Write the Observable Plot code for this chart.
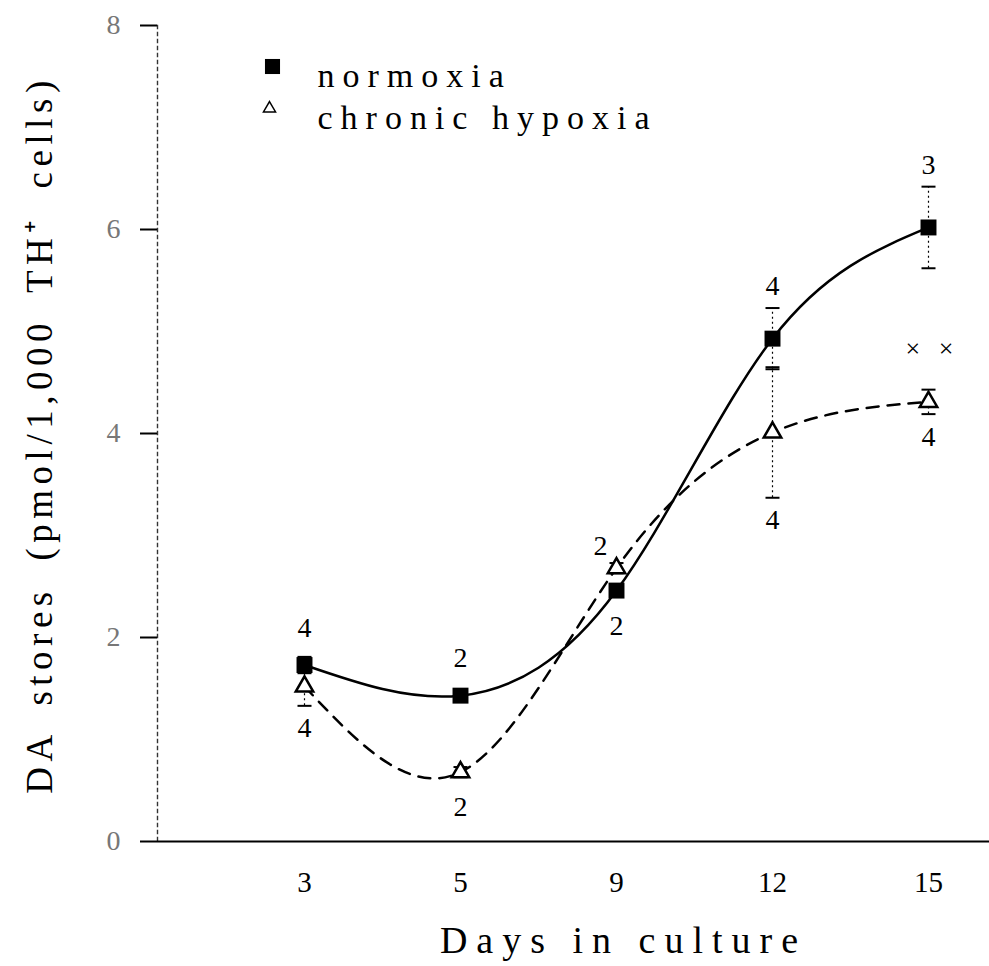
<!DOCTYPE html>
<html>
<head>
<meta charset="utf-8">
<script src="https://cdn.jsdelivr.net/npm/d3@7"></script>
<script src="https://cdn.jsdelivr.net/npm/@observablehq/plot@0.6"></script>
<style>
  body { margin: 0; background: #fff; }
  #chart svg { display: block; }
</style>
</head>
<body>
<div id="chart"></div>
<script>
// Dopamine stores in TH+ cells over days in culture (mean ± SEM, n per point)
const days = ["3", "5", "9", "12", "15"];

const normoxiaMean = [1.73, 1.43, 2.46, 4.93, 6.02];
const normoxiaErr  = [0.08, 0.05, 0.06, 0.30, 0.40];
const normoxiaN    = [4, 2, 2, 4, 3];
const normoxiaSide = ["above", "above", "below", "above", "above"];

const hypoxiaMean = [1.52, 0.68, 2.68, 4.01, 4.31];
const hypoxiaErr  = [0.19, 0.05, 0.05, 0.64, 0.12];
const hypoxiaN    = [4, 2, 2, 4, 4];
const hypoxiaSide = ["below", "below", "above", "below", "below"];

const significance = ["", "", "", "", "× ×"];

const yTicks = [0, 2, 4, 6, 8];
const legendLabels = ["normoxia", "chronic hypoxia"];
const xTitle = "Days in culture";
const yTitle = "DA stores (pmol/1,000 TH\u207A cells)";

const norm = days.map((day, i) => ({
  day, mean: normoxiaMean[i], err: normoxiaErr[i], n: normoxiaN[i], side: normoxiaSide[i]
}));
const hyp = days.map((day, i) => ({
  day, mean: hypoxiaMean[i], err: hypoxiaErr[i], n: hypoxiaN[i], side: hypoxiaSide[i], sig: significance[i]
}));
const all = norm.concat(hyp);

const font = "Liberation Serif";

// horizontal dash used as an error-bar cap
const capSymbol = {
  draw(context, size) {
    const h = Math.sqrt(size / Math.PI);
    context.moveTo(-h, 0);
    context.lineTo(h, 0);
  }
};

// label sits beyond the error bar, or clear of the marker when the bar is short
const aboveY = d => d.mean + Math.max(d.err, 0.15);
const belowY = d => d.mean - Math.max(d.err, 0.13);

const chart = Plot.plot({
  width: 989,
  height: 966,
  marginLeft: 157,
  marginRight: 0,
  marginTop: 25,
  marginBottom: 125,
  style: { fontFamily: font, background: "#fff", color: "#000" },
  x: { type: "point", domain: days, range: [303, 928], padding: 0 },
  y: { domain: [0, 8], range: [841, 25] },
  marks: [
    // dotted vertical axis line
    Plot.frame({ anchor: "left", stroke: "#333", strokeDasharray: "3,4", strokeWidth: 1.4 }),
    Plot.axisY(yTicks, {
      tickSize: 17, tickPadding: 20, strokeWidth: 2, stroke: "#000",
      fontSize: 28, fill: "#777", tickFormat: d => String(d), label: null
    }),
    Plot.axisX({ tickSize: 0, tickPadding: 30, fontSize: 29, label: null }),
    Plot.ruleY([0], { strokeWidth: 2 }),

    // fitted curves
    Plot.line(hyp, { x: "day", y: "mean", curve: "natural", stroke: "#000", strokeWidth: 2.5, strokeDasharray: "12,9" }),
    Plot.line(norm, { x: "day", y: "mean", curve: "natural", stroke: "#000", strokeWidth: 2.5 }),

    // error bars
    Plot.ruleX(all, { x: "day", y1: d => d.mean - d.err, y2: d => d.mean + d.err, stroke: "#000", strokeWidth: 1.2, strokeDasharray: "2,3" }),
    Plot.dot(all, { x: "day", y: d => d.mean + d.err, symbol: capSymbol, r: 7, stroke: "#000", strokeWidth: 2, fill: "none" }),
    Plot.dot(all, { x: "day", y: d => d.mean - d.err, symbol: capSymbol, r: 7, stroke: "#000", strokeWidth: 2, fill: "none" }),

    // markers
    Plot.dot(hyp, { x: "day", y: "mean", symbol: "triangle", r: 6.5, fill: "#fff", stroke: "#000", strokeWidth: 2.5 }),
    Plot.dot(norm, { x: "day", y: "mean", symbol: "square", r: 9, fill: "#000", stroke: "none" }),

    // n per point
    Plot.text(norm.filter(d => d.side === "above"), { x: "day", y: aboveY, text: "n", dy: -22, fontSize: 28 }),
    Plot.text(norm.filter(d => d.side === "below"), { x: "day", y: belowY, text: "n", dy: 22, fontSize: 28 }),
    Plot.text(hyp.filter(d => d.side === "above"), { x: "day", y: "mean", text: "n", dx: -16, dy: -22, fontSize: 28 }),
    Plot.text(hyp.filter(d => d.side === "below"), { x: "day", y: belowY, text: "n", dy: 22, fontSize: 28 }),

    // significance mark
    Plot.text(hyp.filter(d => d.sig), { x: "day", y: d => d.mean + d.err, text: "sig", dx: 4, dy: -41, fontSize: 26 }),

    // legend
    Plot.dot([legendLabels[0]], { frameAnchor: "top-left", dx: 115, dy: 41, symbol: "square", r: 8.5, fill: "#000" }),
    Plot.dot([legendLabels[1]], { frameAnchor: "top-left", dx: 112, dy: 83, symbol: "triangle", r: 4.5, fill: "none", stroke: "#000", strokeWidth: 1.5 }),
    Plot.text([legendLabels[0]], { frameAnchor: "top-left", dx: 160, dy: 37, text: d => d, textAnchor: "start", fontSize: 34 }),
    Plot.text([legendLabels[1]], { frameAnchor: "top-left", dx: 160, dy: 79, text: d => d, textAnchor: "start", fontSize: 34 }),

    // axis titles
    Plot.text([xTitle], { frameAnchor: "bottom", dx: 50, dy: 111, text: d => d, textAnchor: "middle", fontSize: 38 }),
    Plot.text([yTitle], { frameAnchor: "left", dx: -117, dy: 1, rotate: -90, text: d => d, textAnchor: "middle", fontSize: 37 })
  ]
});

// widen the tracking of the typewriter-like labels
const spacing = new Map([
  [legendLabels[0], ["8px", "0px"]],
  [legendLabels[1], ["8px", "0px"]],
  [xTitle, ["9px", "0px"]],
  [yTitle, ["5.5px", "11px"]],
  [significance[4], ["6px", "0px"]]
]);
d3.select(chart).selectAll("text").each(function () {
  const s = spacing.get(this.textContent);
  if (s) {
    this.setAttribute("letter-spacing", s[0]);
    this.setAttribute("word-spacing", s[1]);
  }
});

document.getElementById("chart").appendChild(chart);
</script>
</body>
</html>
